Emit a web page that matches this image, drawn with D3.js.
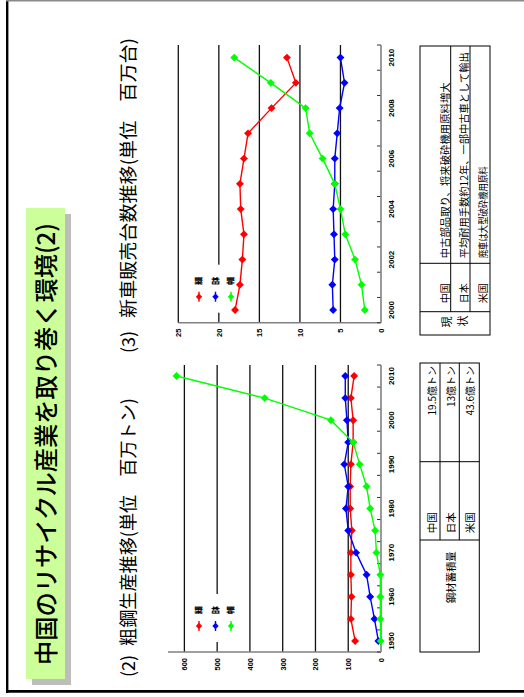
<!DOCTYPE html>
<html><head><meta charset="utf-8">
<script src="https://cdn.jsdelivr.net/npm/d3@7"></script>
<style>
html,body{margin:0;padding:0;background:#fff;}
svg{display:block;}
</style></head><body>
<script>
// ---------- data ----------
const steelYears = [1950,1955,1960,1965,1970,1975,1980,1985,1990,1995,2000,2005,2010];
const steelYearLabels = [1950,1960,1970,1980,1990,2000,2010];
const steelTicks = [0,100,200,300,400,500,600];
const steelUS    = [79,92,90,92,92,89,94,94,92,85,85,92,82];
const steelJapan = [8,20,33,44,76,100,107,100,112,100,104,109,109];
const steelChina = [1,2,2,2,14,18,33,44,65,85,153,355,624];

const carYears = [2000,2001,2002,2003,2004,2005,2006,2007,2008,2009,2010];
const carYearLabels = [2000,2002,2004,2006,2008,2010];
const carTicks = [0,5,10,15,20,25];
const carUS    = [18.0,17.4,17.1,16.9,17.3,17.4,16.9,16.4,13.5,10.5,11.6];
const carJapan = [5.9,6.0,5.7,5.8,5.9,5.7,5.7,5.4,5.1,4.5,5.0];
const carChina = [2.0,2.4,3.2,4.4,5.0,5.7,7.2,8.8,9.3,13.6,18.1];

const seriesNames = ["米国","日本","中国"];
const seriesColors = ["#ff0000","#0000ff","#00ff00"];

const titleText = "中国のリサイクル産業を取り巻く環境(2)";
const chart1Num = "(2)", chart1Title = "粗鋼生産推移(単位　百万トン)";
const chart2Num = "(3)", chart2Title = "新車販売台数推移(単位　百万台)";

const stockHeader = "鋼材蓄積量";
const stockCountries = ["中国","日本","米国"];
const stockValues = ["19.5億トン","13億トン","43.6億トン"];

const statusHeader = ["現","状"];
const statusCountries = ["中国","日本","米国"];
const statusTexts = ["中古部品取り、将来破砕機用原料増大","平均耐用手数約12年、一部中古車として輸出","廃車は大型破砕機用原料"];

// ---------- setup (slide drawn landscape, rotated -90deg) ----------
const CJK = "'Noto Sans CJK JP','Noto Sans CJK SC',sans-serif";
const svg = d3.select("body").append("svg").attr("width",524).attr("height",697);
const g = svg.append("g").attr("transform","translate(0,697) rotate(-90)");

// frame
g.append("line").attr("x1",4).attr("x2",697).attr("y1",7.2).attr("y2",7.2).attr("stroke","#000").attr("stroke-width",2.4);
g.append("line").attr("x1",5.7).attr("x2",5.7).attr("y1",6).attr("y2",524).attr("stroke","#000").attr("stroke-width",2.7);
g.append("line").attr("x1",696.2).attr("x2",696.2).attr("y1",6).attr("y2",524).attr("stroke","#8a8a8a").attr("stroke-width",1.5);

// title box with shadow
g.append("rect").attr("x",12).attr("y",32).attr("width",471).attr("height",39).attr("fill","#bdbdbd");
g.append("rect").attr("x",18).attr("y",26).attr("width",471).attr("height",39).attr("fill","#ccff99");
g.append("text").attr("x",32).attr("y",55).attr("font-family",CJK).attr("font-size",24).attr("font-weight",500)
  .attr("textLength",442).attr("lengthAdjust","spacingAndGlyphs").text(titleText);

// chart titles
function chartTitle(num, numX, txt, x, len){
  g.append("text").attr("x",numX).attr("y",134.5).attr("font-family",CJK).attr("font-size",18)
    .attr("textLength",22).attr("lengthAdjust","spacingAndGlyphs").text(num);
  g.append("text").attr("x",x).attr("y",134.5).attr("font-family",CJK).attr("font-size",18)
    .attr("textLength",len).attr("lengthAdjust","spacingAndGlyphs").text(txt);
}
chartTitle(chart1Num,20,chart1Title,51,248);
chartTitle(chart2Num,344,chart2Title,379,280);

// ---------- chart builder ----------
function lineChart(opt){
  const x = d3.scaleBand().domain(opt.years).range([opt.x0,opt.x1]);
  const y = d3.scaleLinear().domain(opt.domain).range([381,opt.yTop]);
  const c = g.append("g");
  // gridlines
  c.selectAll("line.grid").data(opt.ticks.filter(d=>d>0)).join("line")
    .attr("x1",opt.x0).attr("x2",opt.x1).attr("y1",d=>y(d)).attr("y2",d=>y(d))
    .attr("stroke","#111").attr("stroke-width",1.3);
  // value axis
  const ya = c.append("g").attr("transform",`translate(${opt.x0},0)`)
    .call(d3.axisLeft(y).tickValues(opt.ticks).tickSize(0).tickPadding(6));
  ya.select(".domain").remove();
  ya.selectAll("text").attr("font-family","'Liberation Sans',Arial,sans-serif").attr("font-weight","bold").attr("font-size",7.5).attr("fill","#000");
  c.append("line").attr("x1",opt.x0).attr("x2",opt.x0).attr("y1",y(opt.domain[1])).attr("y2",381)
    .attr("stroke","#808080").attr("stroke-width",1.6);
  // category axis
  const xa = c.append("g").attr("transform","translate(0,381)")
    .call(d3.axisBottom(x).tickValues(opt.labels).tickSize(0).tickPadding(7));
  xa.select(".domain").remove();
  xa.selectAll("text").attr("font-family","'Liberation Sans',Arial,sans-serif").attr("font-weight","bold").attr("font-size",8).attr("fill","#000");
  const bounds = opt.years.map(d=>x(d)).concat([opt.x1]);
  c.selectAll("line.ctick").data(bounds).join("line")
    .attr("x1",d=>d).attr("x2",d=>d).attr("y1",377).attr("y2",381)
    .attr("stroke","#333").attr("stroke-width",1);
  c.append("line").attr("x1",opt.x0).attr("x2",opt.x1).attr("y1",381).attr("y2",381)
    .attr("stroke","#808080").attr("stroke-width",1.6);
  // legend
  const lx = opt.x0 + 10;
  c.append("rect").attr("x",lx).attr("y",190).attr("width",48).attr("height",52).attr("fill","#fff");
  const ly = [199,215.5,231];
  seriesNames.forEach((n,i)=>{
    c.append("line").attr("x1",lx+11).attr("x2",lx+21).attr("y1",ly[i]).attr("y2",ly[i])
      .attr("stroke",seriesColors[i]).attr("stroke-width",1.4);
    c.append("path").attr("d",d3.symbol(d3.symbolDiamond2,26)())
      .attr("transform",`translate(${lx+16},${ly[i]})`).attr("fill",seriesColors[i]);
    c.append("text").attr("x",lx+28).attr("y",ly[i]+2.3).attr("font-family",CJK).attr("font-weight",900)
      .attr("font-size",6.5).attr("stroke","#000").attr("stroke-width",0.4).attr("fill","#000")
      .attr("textLength",7.5).attr("lengthAdjust","spacingAndGlyphs").text(n);
  });
  // series
  const line = d3.line().x((d,i)=>x(opt.years[i])+x.bandwidth()/2).y(d=>y(d));
  opt.series.forEach((s,i)=>{
    c.append("path").attr("d",line(s)).attr("fill","none").attr("stroke",seriesColors[i]).attr("stroke-width",1.4);
    c.selectAll(null).data(s).join("path").attr("d",d3.symbol(d3.symbolDiamond2,40)())
      .attr("transform",(d,j)=>`translate(${x(opt.years[j])+x.bandwidth()/2},${y(d)})`)
      .attr("fill",seriesColors[i]);
  });
}

lineChart({years:steelYears,labels:steelYearLabels,ticks:steelTicks,domain:[0,650],yTop:168,
  x0:45,x1:332,series:[steelUS,steelJapan,steelChina]});
lineChart({years:carYears,labels:carYearLabels,ticks:carTicks,domain:[0,25],yTop:178.3,
  x0:374.3,x1:652,series:[carUS,carJapan,carChina]});

// ---------- tables ----------
function ln(x1,y1,x2,y2){
  g.append("line").attr("x1",x1).attr("y1",y1).attr("x2",x2).attr("y2",y2).attr("stroke","#000").attr("stroke-width",1);
}
function txt(s,x,y,size,anchor,len){
  const t = g.append("text").attr("x",x).attr("y",y).attr("font-family",CJK).attr("font-size",size)
    .attr("text-anchor",anchor||"start").attr("dominant-baseline","central").text(s);
  if(len) t.attr("textLength",len).attr("lengthAdjust","spacingAndGlyphs");
}
// table 1: steel stock
(function(){
  const u0=45,u1=157,u2=235.3,u3=334, v=[420,440,459.3,479.3];
  g.append("rect").attr("x",u0).attr("y",v[0]).attr("width",u3-u0).attr("height",v[3]-v[0])
    .attr("fill","none").attr("stroke","#000").attr("stroke-width",1);
  ln(u1,v[0],u1,v[3]); ln(u2,v[0],u2,v[3]);
  ln(u1,v[1],u3,v[1]); ln(u1,v[2],u3,v[2]);
  txt(stockHeader,93.7,450,10.5,"start",52);
  const vc=[431,450,469];
  stockCountries.forEach((s,i)=>txt(s,163.7,vc[i],10.5,"start",21));
  stockValues.forEach((s,i)=>txt(s,331,vc[i],10,"end"));
})();
// table 2: status
(function(){
  const u0=362,u1=385.3,u2=433.7,u3=651, v=[420,450.7,470,490];
  g.append("rect").attr("x",u0).attr("y",v[0]).attr("width",u3-u0).attr("height",v[3]-v[0])
    .attr("fill","none").attr("stroke","#000").attr("stroke-width",1);
  ln(u1,v[0],u1,v[3]); ln(u2,v[0],u2,v[3]);
  ln(u1,v[1],u3,v[1]); ln(u1,v[2],u3,v[2]);
  txt(statusHeader[0],375,446,11,"middle");
  txt(statusHeader[1],376,462,11,"middle");
  const vc=[444.5,463.5,482.5];
  statusCountries.forEach((s,i)=>txt(s,393.7,vc[i],10,"start",20));
  const lens=[176,206,92];
  statusTexts.forEach((s,i)=>txt(s,438.7,vc[i],10,"start",lens[i]));
})();
</script>
</body></html>
